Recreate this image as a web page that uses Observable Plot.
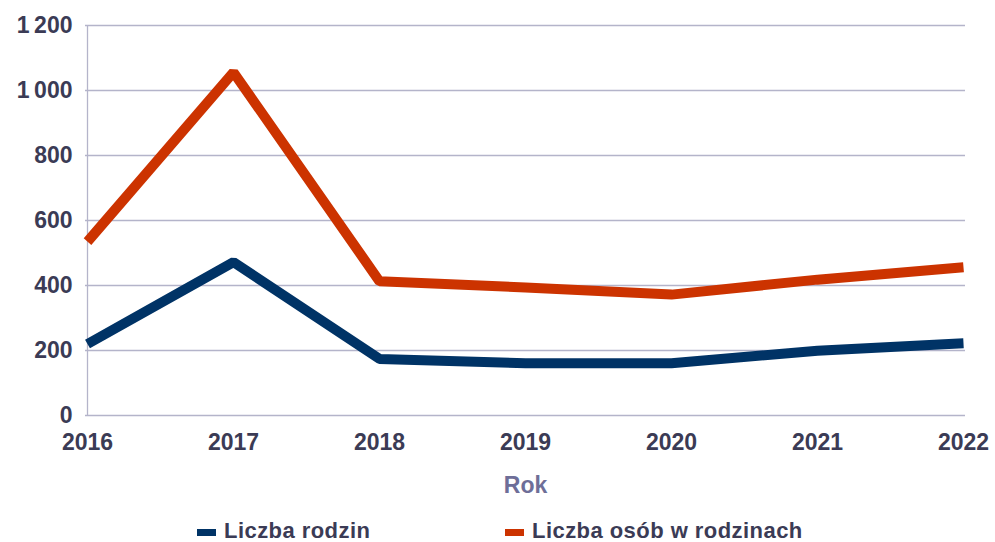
<!DOCTYPE html>
<html>
<head>
<meta charset="utf-8">
<script src="https://cdn.jsdelivr.net/npm/d3@7"></script>
<script src="https://cdn.jsdelivr.net/npm/@observablehq/plot@0.6"></script>
<style>
  html, body { margin: 0; padding: 0; background: #fff; }
  #wrap { position: relative; width: 995px; height: 542px; font-family: "Liberation Sans", Arial, sans-serif; }
  .legend { position: absolute; top: 519px; left: 0; width: 995px; height: 24px; }
  .item { position: absolute; display: flex; align-items: center; font-weight: bold; font-size: 22px; line-height: 24px; color: #3b3b55; letter-spacing: 0.45px; }
  .sw { width: 19px; height: 7px; margin-right: 8px; margin-top: 2px; }
</style>
</head>
<body>
<div id="wrap"></div>
<script>
const years = ["2016", "2017", "2018", "2019", "2020", "2021", "2022"];
const liczbaRodzin = [220, 472, 174, 161, 161, 199, 222];
const liczbaOsob = [535, 1056, 413, 394, 372, 418, 456];
const seriesNames = ["Liczba rodzin", "Liczba osób w rodzinach"];
const seriesColors = ["#003366", "#cc3300"];
const yTicks = [0, 200, 400, 600, 800, 1000, 1200];
const xLabel = "Rok";

const rows = [];
years.forEach((y, i) => {
  rows.push({year: y, value: liczbaRodzin[i], series: seriesNames[0]});
  rows.push({year: y, value: liczbaOsob[i], series: seriesNames[1]});
});

const fmt = d => d >= 1000 ? d3.format(",")(d).replace(",", "\u2009") : String(d);

const chart = Plot.plot({
  width: 995,
  height: 500,
  marginLeft: 85,
  marginRight: 30,
  marginTop: 25,
  marginBottom: 85,
  style: {fontFamily: "'Liberation Sans', Arial, sans-serif", background: "#fff"},
  x: {type: "point", domain: years, padding: 0},
  y: {domain: [0, 1200]},
  color: {domain: seriesNames, range: seriesColors},
  marks: [
    Plot.gridY(yTicks, {stroke: "#b4b4ca", strokeOpacity: 1, strokeWidth: 1.3}),
    Plot.ruleX([years[0]], {stroke: "#b4b4ca", strokeWidth: 1.3}),
    Plot.line(rows, {x: "year", y: "value", z: "series", stroke: "series", strokeWidth: 10, strokeLinejoin: "miter", strokeLinecap: "butt"}),
    Plot.axisX({tickSize: 0, tickPadding: 18, fontSize: 23, fontWeight: "bold", fill: "#3b3b55", label: null, style: {letterSpacing: "0.6px"}}),
    Plot.axisY(yTicks, {tickSize: 0, tickPadding: 13, fontSize: 23, fontWeight: "bold", fill: "#3b3b55", tickFormat: fmt, label: null, style: {letterSpacing: "0.6px"}}),
    Plot.text([xLabel], {text: d => d, frameAnchor: "bottom", dy: 77, fontSize: 23, fontWeight: "bold", fill: "#6e6e98"})
  ]
});

const wrap = document.getElementById("wrap");
wrap.appendChild(chart);
const legend = document.createElement("div");
legend.className = "legend";
const lefts = [197, 505];
seriesNames.forEach((name, i) => {
  const it = document.createElement("div");
  it.className = "item";
  it.style.left = lefts[i] + "px";
  const sw = document.createElement("span");
  sw.className = "sw";
  sw.style.background = seriesColors[i];
  it.appendChild(sw);
  it.appendChild(document.createTextNode(name));
  legend.appendChild(it);
});
wrap.appendChild(legend);
</script>
</body>
</html>
